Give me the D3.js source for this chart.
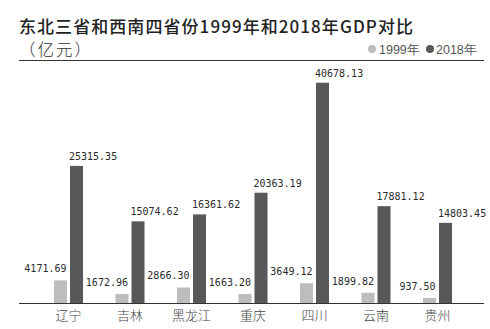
<!DOCTYPE html>
<html>
<head>
<meta charset="utf-8">
<script src="https://cdn.jsdelivr.net/npm/d3@7"></script>
<style>
  html, body { margin: 0; padding: 0; background: #fff; }
  svg { display: block; }
</style>
</head>
<body>
<svg id="chart" width="490" height="329"></svg>
<script>
const categories = ["辽宁", "吉林", "黑龙江", "重庆", "四川", "云南", "贵州"];
const gdp1999 = [4171.69, 1672.96, 2866.30, 1663.20, 3649.12, 1899.82, 937.50];
const gdp2018 = [25315.35, 15074.62, 16361.62, 20363.19, 40678.13, 17881.12, 14803.45];
const seriesNames = ["1999年", "2018年"];
const valueLabels1999 = ["4171.69", "1672.96", "2866.30", "1663.20", "3649.12", "1899.82", "937.50"];
const valueLabels2018 = ["25315.35", "15074.62", "16361.62", "20363.19", "40678.13", "17881.12", "14803.45"];

const colors = { "1999年": "#bdbdbf", "2018年": "#58585a" };
const svg = d3.select("#chart");
const cjk = "'Noto Sans CJK SC', 'Noto Sans', sans-serif";
const mono = "'DejaVu Sans Mono', 'Liberation Mono', monospace";

// Title
svg.append("text")
  .attr("x", 19).attr("y", 33)
  .attr("font-family", cjk).attr("font-size", 17).attr("font-weight", 500)
  .attr("fill", "#222")
  .attr("textLength", 394).attr("lengthAdjust", "spacing")
  .text("东北三省和西南四省份1999年和2018年GDP对比");

svg.append("text")
  .attr("x", 19).attr("y", 56)
  .attr("font-family", cjk).attr("font-size", 16.5).attr("font-weight", 300)
  .attr("letter-spacing", 2)
  .attr("fill", "#333")
  .text("（亿元）");

// header rule
svg.append("line")
  .attr("x1", 19).attr("x2", 484).attr("y1", 60.5).attr("y2", 60.5)
  .attr("stroke", "#333").attr("stroke-width", 1);

// Legend
const legend = svg.append("g");
const legendItems = [
  { name: seriesNames[0], cx: 372, tx: 379 },
  { name: seriesNames[1], cx: 430, tx: 436 }
];
legendItems.forEach(d => {
  legend.append("circle").attr("cx", d.cx).attr("cy", 49).attr("r", 4).attr("fill", colors[d.name]);
  legend.append("text").attr("x", d.tx).attr("y", 53.5)
    .attr("font-family", "'Liberation Sans', Arial, sans-serif").attr("font-size", 12.5)
    .attr("fill", "#555").text(d.name);
});

// Scales
const x0 = d3.scaleBand().domain(categories).range([37.75, 468.25])
  .paddingInner(0.528).paddingOuter(0.264);
const x1 = d3.scaleBand().domain(seriesNames).range([0, x0.bandwidth()]).paddingInner(0.1875);
const y = d3.scaleLinear().domain([0, 40678.13]).range([303, 82.7]);

const data = categories.map((c, i) => ({
  cat: c,
  vals: [
    { s: seriesNames[0], v: gdp1999[i], label: valueLabels1999[i] },
    { s: seriesNames[1], v: gdp2018[i], label: valueLabels2018[i] }
  ]
}));

const groups = svg.append("g").selectAll("g").data(data).join("g")
  .attr("transform", d => `translate(${x0(d.cat)},0)`);

groups.selectAll("rect").data(d => d.vals).join("rect")
  .attr("x", d => x1(d.s))
  .attr("y", d => y(d.v))
  .attr("width", x1.bandwidth())
  .attr("height", d => y(0) - y(d.v))
  .attr("fill", d => colors[d.s]);

groups.selectAll("text.val").data(d => d.vals).join("text")
  .attr("class", "val")
  .attr("x", d => d.s === seriesNames[0] ? x1(d.s) + x1.bandwidth() - 0.5 : x1(d.s) - 1)
  .attr("y", d => y(d.v) - (d.s === seriesNames[0] ? 8 : 6))
  .attr("text-anchor", d => d.s === seriesNames[0] ? "end" : "start")
  .attr("font-family", mono).attr("font-size", 10)
  .attr("fill", "#2a2a2a")
  .text(d => d.label);

// Axis
const xAxis = d3.axisBottom(x0).tickSize(0).tickPadding(8);
const ax = svg.append("g").attr("transform", "translate(0,303)").call(xAxis);
ax.select(".domain").remove();
ax.selectAll("text").attr("font-family", cjk).attr("font-size", 13).attr("font-weight", 300).attr("fill", "#444");
svg.append("line")
  .attr("x1", 19).attr("x2", 484).attr("y1", 303.5).attr("y2", 303.5)
  .attr("stroke", "#333").attr("stroke-width", 1);
</script>
</body>
</html>
